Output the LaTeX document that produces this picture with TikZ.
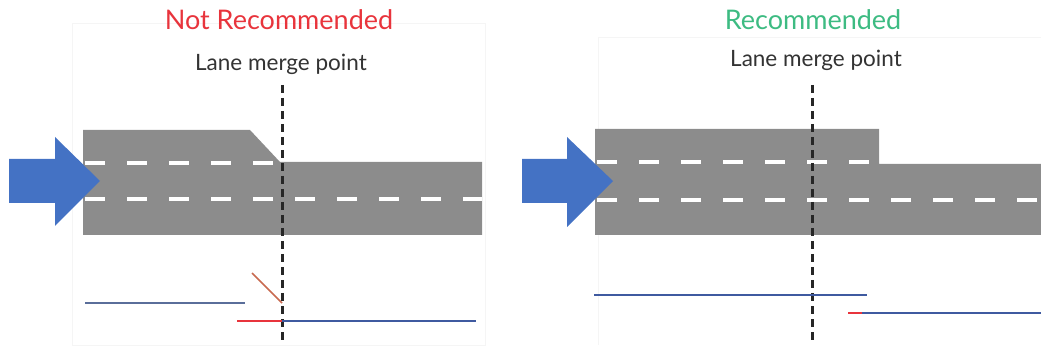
\documentclass[tikz,border=0pt]{standalone}
\usepackage{fontspec}
\setmainfont{Lato}
\usetikzlibrary{calc,positioning}
\definecolor{roadgray}{HTML}{8C8C8C}
\definecolor{arrowblue}{HTML}{4472C4}
\definecolor{lineblue}{HTML}{3F5AA0}
\definecolor{thinblue}{HTML}{5A6E9A}
\definecolor{bad}{HTML}{E8343C}
\definecolor{good}{HTML}{3DBB82}
\definecolor{taper}{HTML}{C86A50}
\definecolor{textgray}{HTML}{333333}
\tikzset{
  titletext/.style={font=\fontsize{27}{30}\selectfont, inner sep=0pt},
  mergetext/.style={font=\fontsize{22.5}{26}\selectfont, text=textgray, inner sep=0pt},
  road/.style={fill=roadgray, draw=none},
  lanemark/.style={white, line width=3.4, dash pattern=on 20 off 22},
  mergeline/.style={black!85, line width=3, dash pattern=on 8 off 5},
  flowarrow/.style={fill=arrowblue, draw=none},
  panelframe/.style={black!4, line width=0.6},
}
\begin{document}
\begin{tikzpicture}[x=1pt, y=-1pt]
\useasboundingbox (0,0) rectangle (1041,347);
% faint panel frames
\draw[panelframe] (72,23) rectangle (485,345);
\draw[panelframe] (598,37) -- (1041,37) (598,37) -- (598,345);

%%% left panel: not recommended
\node[titletext, text=bad] (titleL) at (279,20) {Not Recommended};
\node[mergetext] (mergeL) at (281,64) {Lane merge point};
% road with tapered lane drop
\fill[road] (83,130) -- (250,130) -- (280,162) -- (482,162) -- (482,235) -- (83,235) -- cycle;
\draw[lanemark] (85,163) -- (280,163);
\draw[lanemark] (85,199) -- (482,199);
% traffic direction
\fill[flowarrow] (9,159) -- (55,159) -- (55,137) -- (100,181) -- (55,226) -- (55,203) -- (9,203) -- cycle;
% merge point
\coordinate (topL) at (282,85);
\coordinate (botL) at (282,340);
\draw[mergeline] (topL) -- (botL);
% lane lines
\coordinate (laneLa) at (85,303);
\coordinate (laneLb) at (245,303);
\coordinate (taperLa) at (252,273);
\coordinate (taperLb) at (282,303);
\coordinate (redLa) at (237,321);
\coordinate (redLb) at (282,321);
\coordinate (blueLb) at (476,321);
\draw[thinblue, line width=1.6] (laneLa) -- (laneLb);
\draw[taper, line width=1.6] (taperLa) -- (taperLb);
\draw[bad, line width=2.2] (redLa) -- (redLb);
\draw[lineblue, line width=2.2] (redLb) -- (blueLb);

%%% right panel: recommended
\node[titletext, text=good] (titleR) at (813,20) {Recommended};
\node[mergetext] (mergeR) at (816,60) {Lane merge point};
% road with squared lane drop
\fill[road] (595,129) -- (879,129) -- (879,164) -- (1041,164) -- (1041,235) -- (595,235) -- cycle;
\draw[lanemark] (597,162) -- (879,162);
\draw[lanemark] (597,200) -- (1041,200);
% traffic direction
\fill[flowarrow] (522,159) -- (567,159) -- (567,137) -- (613,181) -- (567,227) -- (567,203) -- (522,203) -- cycle;
% merge point
\coordinate (topR) at (812,85);
\coordinate (botR) at (812,340);
\draw[mergeline] (topR) -- (botR);
% lane lines
\coordinate (laneRa) at (594,295);
\coordinate (laneRb) at (867,295);
\coordinate (redRa) at (848,313);
\coordinate (redRb) at (862,313);
\coordinate (blueRb) at (1041,313);
\draw[lineblue, line width=2.2] (laneRa) -- (laneRb);
\draw[bad, line width=2.2] (redRa) -- (redRb);
\draw[lineblue, line width=2.2] (redRb) -- (blueRb);
\end{tikzpicture}
\end{document}
